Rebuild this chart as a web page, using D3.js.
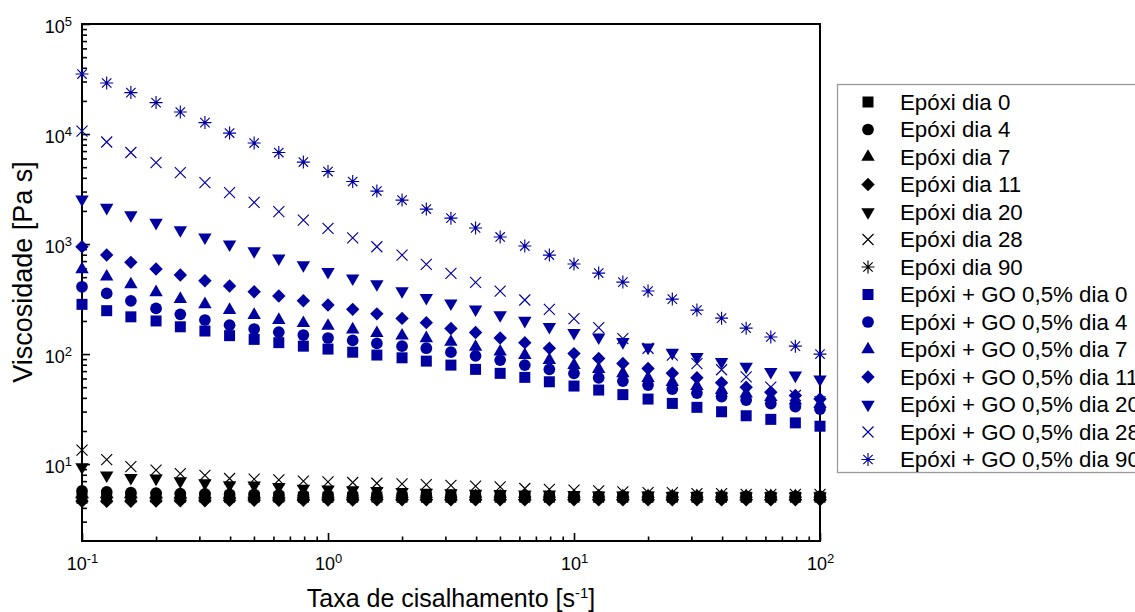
<!DOCTYPE html>
<html><head><meta charset="utf-8">
<script src="https://cdn.jsdelivr.net/npm/d3@7"></script>
<style>
body{margin:0;background:#fff;}
svg{display:block;font-family:"Liberation Sans",Arial,Helvetica,sans-serif;}
</style>
</head><body>
<svg id="chart" width="1135" height="612"></svg>
<script>
// ---------- DATA ----------
const shearRates = [0.1, 0.126, 0.158, 0.2, 0.251, 0.316, 0.398, 0.501, 0.631, 0.794,
  1, 1.26, 1.58, 2, 2.51, 3.16, 3.98, 5.01, 6.31, 7.94,
  10, 12.6, 15.8, 20, 25.1, 31.6, 39.8, 50.1, 63.1, 79.4, 100];

const seriesNames = ["Epóxi dia 0", "Epóxi dia 4", "Epóxi dia 7", "Epóxi dia 11", "Epóxi dia 20",
  "Epóxi dia 28", "Epóxi dia 90",
  "Epóxi + GO 0,5% dia 0", "Epóxi + GO 0,5% dia 4", "Epóxi + GO 0,5% dia 7", "Epóxi + GO 0,5% dia 11",
  "Epóxi + GO 0,5% dia 20", "Epóxi + GO 0,5% dia 28", "Epóxi + GO 0,5% dia 90"];

const epoxi0  = [4.9, 4.95, 5.0, 5.0, 5.0, 5.02, 5.0, 5.0, 5.02, 5.0, 5.0, 5.0, 5.02, 5.0, 5.0, 5.0, 5.0, 5.0, 5.0, 5.0, 5.0, 5.0, 5.0, 5.0, 5.0, 5.0, 5.0, 5.0, 5.0, 5.0, 5.0];
const epoxi4  = [5.7, 5.6, 5.5, 5.45, 5.4, 5.35, 5.3, 5.3, 5.25, 5.2, 5.2, 5.2, 5.15, 5.15, 5.15, 5.1, 5.1, 5.1, 5.1, 5.1, 5.1, 5.1, 5.1, 5.1, 5.1, 5.1, 5.1, 5.1, 5.1, 5.1, 5.1];
const epoxi7  = [5.3, 5.3, 5.3, 5.25, 5.2, 5.2, 5.2, 5.2, 5.2, 5.15, 5.15, 5.15, 5.15, 5.1, 5.1, 5.1, 5.1, 5.1, 5.1, 5.1, 5.1, 5.1, 5.1, 5.1, 5.1, 5.1, 5.1, 5.1, 5.1, 5.1, 5.1];
const epoxi11 = [4.6, 4.6, 4.6, 4.62, 4.65, 4.65, 4.68, 4.7, 4.7, 4.7, 4.72, 4.72, 4.75, 4.75, 4.75, 4.75, 4.75, 4.75, 4.75, 4.75, 4.75, 4.75, 4.75, 4.75, 4.75, 4.75, 4.75, 4.75, 4.75, 4.75, 4.75];
const epoxi20 = [9.4, 7.9, 7.5, 7.4, 7.0, 6.7, 6.45, 6.4, 6.2, 6.0, 5.9, 5.8, 5.7, 5.6, 5.5, 5.45, 5.4, 5.35, 5.3, 5.3, 5.25, 5.2, 5.2, 5.2, 5.15, 5.15, 5.1, 5.1, 5.1, 5.1, 5.1];
const epoxi28 = [13.4, 11.0, 9.5, 8.8, 8.2, 7.9, 7.4, 7.3, 7.2, 7.0, 6.9, 6.8, 6.7, 6.6, 6.5, 6.4, 6.3, 6.2, 6.0, 5.9, 5.8, 5.7, 5.6, 5.5, 5.5, 5.4, 5.4, 5.3, 5.3, 5.3, 5.3];
const epoxi90 = [5.0, 5.0, 5.0, 5.0, 5.0, 5.0, 5.0, 5.0, 5.0, 5.0, 5.0, 5.0, 5.0, 5.0, 5.0, 5.0, 5.0, 5.0, 5.0, 5.0, 5.0, 5.0, 5.0, 5.0, 5.0, 5.0, 5.0, 5.0, 5.0, 5.0, 5.0];

const go0  = [283, 248, 218, 200, 177, 162, 147, 136, 127, 118, 111, 104, 98, 92.5, 86.3, 79.4, 72.6, 66.8, 61.4, 56, 51.2, 47.1, 42.8, 39, 35.6, 32.8, 29.9, 27.5, 25.5, 23.7, 22.1];
const go4  = [409, 356, 305, 260, 230, 204, 183, 169, 158, 149, 140, 133, 125, 118, 113, 104, 96.5, 88.2, 79.4, 72.6, 66.8, 60.9, 56.8, 52.3, 48.1, 44.2, 41.1, 38.2, 35.5, 33.3, 31.6];
const go7  = [589, 505, 430, 364, 316, 283, 251, 226, 204, 191, 180, 167, 155, 147, 139, 129, 116, 105, 98, 88.2, 79.4, 73.1, 66.8, 60.5, 55.6, 51.2, 47.1, 43.7, 40.6, 37.8, 35.1];
const go11 = [945, 794, 682, 593, 523, 464, 415, 368, 337, 305, 279, 255, 232, 211, 193, 171, 157, 140, 127, 113, 101, 91, 82, 74, 67, 61, 55, 50, 45, 42, 39];
const go20 = [2550, 2140, 1835, 1563, 1340, 1151, 994, 864, 741, 644, 560, 488, 433, 374, 325, 289, 255, 226, 201, 177, 156, 142, 129, 115, 103, 94.5, 85, 77, 69, 64, 59];
const go28 = [10640, 8460, 6790, 5490, 4450, 3610, 2930, 2390, 1970, 1650, 1390, 1140, 945, 794, 654, 542, 449, 374, 310, 255, 210, 174, 138, 113, 98, 82, 72, 62, 50, 42, 37];
const go90 = [35100, 29100, 23800, 19300, 15850, 12700, 10200, 8280, 6790, 5560, 4560, 3700, 3030, 2510, 2080, 1720, 1400, 1160, 959, 794, 658, 545, 451, 374, 316, 251, 212, 172, 143, 118, 100];

const seriesValues = [epoxi0, epoxi4, epoxi7, epoxi11, epoxi20, epoxi28, epoxi90,
  go0, go4, go7, go11, go20, go28, go90];
const markerTypes = ["square", "circle", "triangle", "diamond", "triangleDown", "cross", "star"];
const groupColors = ["#000000", "#0000a0"];

const xMajorTicks = [0.1, 1, 10, 100];
const yMajorTicks = [10, 100, 1000, 10000, 100000];

// ---------- CHART ----------
const svg = d3.select("#chart");
const L = 82, R = 820, T = 24, B = 541;
const x = d3.scaleLog().domain([0.1, 100]).range([L, R]);
const y = d3.scaleLog().domain([2, 1e5]).range([B, T]);

function markerPath(type) {
  switch (type) {
    case "square": return d3.symbol(d3.symbolSquare, 121)();
    case "circle": return d3.symbol(d3.symbolCircle, 108)();
    case "triangle": return d3.symbol(d3.symbolTriangle, 78)();
    case "triangleDown": return d3.symbol(d3.symbolTriangle, 78)();
    case "diamond": return d3.symbol(d3.symbolSquare, 90)();
    case "cross": return "M-5.5,-5.5L5.5,5.5M-5.5,5.5L5.5,-5.5";
    case "star": return "M0,-6.5V6.5M-6.5,0H6.5M-4.7,-4.7L4.7,4.7M-4.7,4.7L4.7,-4.7";
  }
}
function markerRot(type) {
  if (type === "triangleDown") return " rotate(180)";
  if (type === "diamond") return " rotate(45)";
  return "";
}
function styleMarker(sel, type, color) {
  if (type === "cross" || type === "star") {
    sel.attr("fill", "none").attr("stroke", color).attr("stroke-width", 1.15);
  } else {
    sel.attr("fill", color).attr("stroke", "none");
  }
}

const xMinor = x.ticks().filter(d => !xMajorTicks.some(m => Math.abs(m - d) / m < 1e-6));
const yMinor = y.ticks().filter(d => !yMajorTicks.some(m => Math.abs(m - d) / m < 1e-6) && d > 2.0001);

function supLabel(sel, anchorDy) {
  sel.each(function(d) {
    const t = d3.select(this);
    const e = Math.round(Math.log10(d));
    t.text(null).attr("font-size", 18).attr("fill", "#000").attr("dy", anchorDy);
    t.append("tspan").text("10");
    t.append("tspan").attr("font-size", 13).attr("dy", -7).text(String(e));
  });
}

const gxMinor = svg.append("g").attr("transform", `translate(0,${B})`)
  .call(d3.axisBottom(x).tickValues(xMinor).tickSize(-4.5).tickSizeOuter(0).tickFormat(""));
const gxMajor = svg.append("g").attr("transform", `translate(0,${B})`)
  .call(d3.axisBottom(x).tickValues(xMajorTicks).tickSize(-8).tickSizeOuter(0).tickPadding(16).tickFormat(d => d));
gxMajor.selectAll(".tick text").call(supLabel, "0.71em");

const gyMinor = svg.append("g").attr("transform", `translate(${L},0)`)
  .call(d3.axisLeft(y).tickValues(yMinor).tickSize(-5).tickSizeOuter(0).tickFormat(""));
const gyMajor = svg.append("g").attr("transform", `translate(${L},0)`)
  .call(d3.axisLeft(y).tickValues(yMajorTicks).tickSize(-8).tickSizeOuter(0).tickPadding(10).tickFormat(d => d));
gyMajor.selectAll(".tick text").call(supLabel, "0.45em");

[gxMinor, gxMajor, gyMinor, gyMajor].forEach(g => {
  g.select(".domain").remove();
  g.selectAll(".tick line").attr("stroke", "#000").attr("stroke-width", 1.6);
  g.selectAll(".tick text").attr("font-family", '"Liberation Sans",Arial,sans-serif');
});

svg.append("rect").attr("x", L).attr("y", T).attr("width", R - L).attr("height", B - T)
  .attr("fill", "none").attr("stroke", "#000").attr("stroke-width", 2);

const gData = svg.append("g");
seriesValues.forEach((vals, si) => {
  const type = markerTypes[si % 7];
  const color = groupColors[si < 7 ? 0 : 1];
  const g = gData.append("g");
  g.selectAll("path").data(vals.map((v, i) => [shearRates[i], v])).join("path")
    .attr("d", markerPath(type))
    .attr("transform", d => `translate(${x(d[0])},${y(d[1])})${markerRot(type)}`)
    .call(styleMarker, type, color);
  if (type === "star") {
    g.selectAll("circle").data(vals.map((v, i) => [shearRates[i], v])).join("circle")
      .attr("cx", d => x(d[0])).attr("cy", d => y(d[1])).attr("r", 1.4).attr("fill", color);
  }
});

const xt = svg.append("text").attr("x", (L + R) / 2).attr("y", 607).attr("text-anchor", "middle")
  .attr("font-size", 25).attr("fill", "#000");
xt.append("tspan").text("Taxa de cisalhamento [s");
xt.append("tspan").attr("font-size", 15).attr("dy", -9).text("-1");
xt.append("tspan").attr("dy", 9).text("]");

svg.append("text").attr("transform", "translate(32,272) rotate(-90)").attr("text-anchor", "middle")
  .attr("font-size", 27).attr("fill", "#000").text("Viscosidade [Pa s]");

const lg = svg.append("g");
lg.append("rect").attr("x", 837.5).attr("y", 84.5).attr("width", 420).attr("height", 388)
  .attr("fill", "#fff").attr("stroke", "#9a9a9a").attr("stroke-width", 1.3);
const rowY = i => 102 + i * 27.5;
seriesNames.forEach((name, si) => {
  const type = markerTypes[si % 7];
  const color = groupColors[si < 7 ? 0 : 1];
  const row = lg.append("g").attr("transform", `translate(0,${rowY(si)})`);
  row.append("path").attr("d", markerPath(type))
    .attr("transform", `translate(868,0)${markerRot(type)}`).call(styleMarker, type, color);
  if (type === "star") row.append("circle").attr("cx", 868).attr("cy", 0).attr("r", 1.2).attr("fill", color);
  row.append("text").attr("x", 900).attr("y", 0).attr("dy", "0.35em").attr("font-size", 22.3)
    .attr("fill", "#000").text(name);
});
</script>
</body></html>
